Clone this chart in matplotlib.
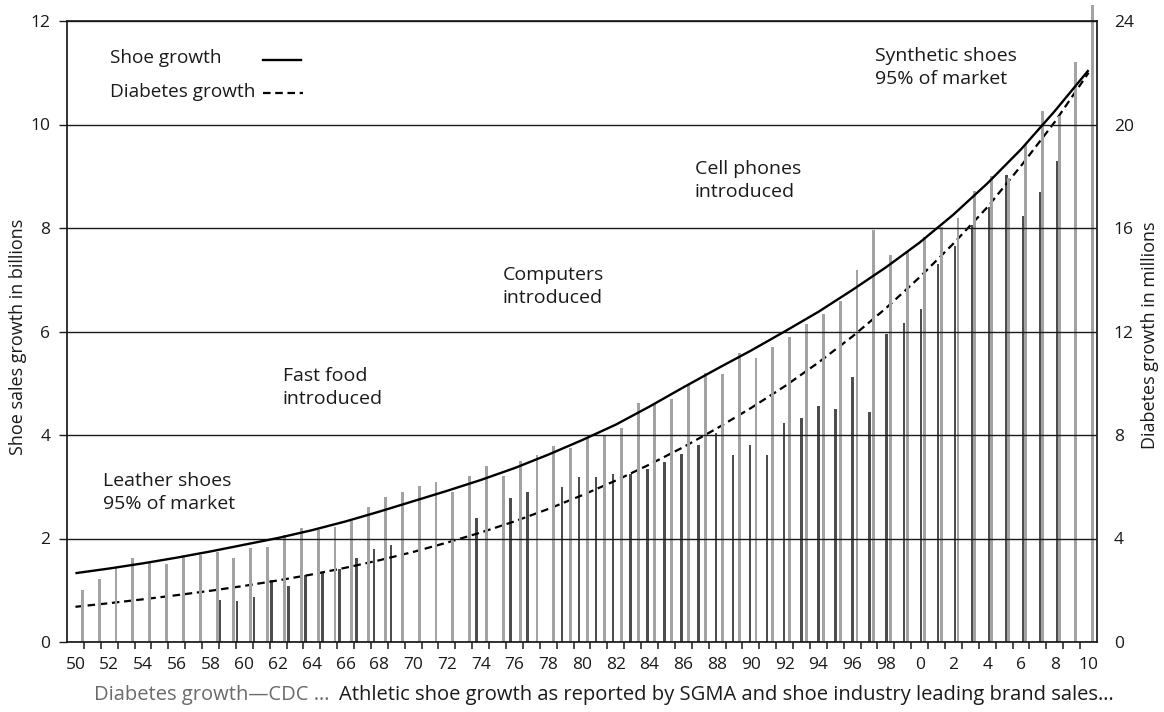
import numpy as np
import matplotlib
matplotlib.use("Agg")
import matplotlib.pyplot as plt

plt.rcParams['font.family'] = ['Open Sans', 'DejaVu Sans']

# ---------------- data ----------------
bar_years = list(range(1950, 2011))
shoe_sales_bars = [1.0, 1.22, 1.43, 1.62, 1.53, 1.5, 1.65, 1.68, 1.74, 1.63,
                   1.82, 1.84, 2.06, 2.2, 2.17, 2.23, 2.33, 2.61, 2.8, 2.9,
                   3.02, 3.1, 2.9, 3.21, 3.4, 3.2, 3.49, 3.61, 3.79, 3.74,
                   3.95, 4.0, 4.14, 4.62, 4.6, 4.7, 4.98, 5.2, 5.18, 5.59,
                   5.49, 5.71, 5.9, 6.14, 6.34, 6.58, 7.18, 7.97, 7.48, 7.55,
                   7.82, 8.02, 8.2, 8.72, 9.0, 8.96, 9.62, 10.27, 10.16, 11.2,
                   12.3]

diab_bar_years = list(range(1958, 2010))
diabetes_bars_m = [1.62, 1.58, 1.72, 2.4, 2.16, 2.6, 2.68, 2.84, 3.24, 3.58,
                   3.74, np.nan, np.nan, np.nan, np.nan, 4.8, np.nan, 5.56, 5.78, np.nan,
                   6.0, 6.38, 6.36, 6.48, 6.5, 6.7, 6.94, 7.28, 7.6, 8.08,
                   7.24, 7.62, 7.24, 8.48, 8.66, 9.14, 9.0, 10.24, 8.88, 11.92,
                   12.34, 12.86, 14.6, 15.32, 16.1, 16.8, 18.04, 16.48, 17.4, 18.6,
                   18.28, 17.8]

curve_years = list(range(1950, 2011, 2))
shoe_growth = [1.33, 1.42, 1.52, 1.63, 1.75, 1.88, 2.01, 2.16, 2.33, 2.52,
               2.72, 2.92, 3.13, 3.36, 3.62, 3.9, 4.2, 4.55, 4.92, 5.28,
               5.63, 6.0, 6.38, 6.8, 7.24, 7.72, 8.26, 8.86, 9.52, 10.26, 11.05]
diabetes_growth_m = [1.36, 1.5, 1.65, 1.81, 1.98, 2.17, 2.38, 2.61, 2.87, 3.16,
                     3.48, 3.84, 4.23, 4.66, 5.14, 5.67, 6.24, 6.86, 7.53, 8.26,
                     9.04, 9.88, 10.8, 11.8, 12.9, 14.1, 15.4, 16.8, 18.4, 20.1, 22.0]

tick_years = list(range(1950, 2011, 2))
tick_labels = [str(y % 100) for y in tick_years]

annotations = [
    ("Leather shoes\n95% of market", 1951.63, 2.89),
    ("Fast food\nintroduced", 1962.29, 4.92),
    ("Computers\nintroduced", 1975.3, 6.87),
    ("Cell phones\nintroduced", 1986.68, 8.92),
    ("Synthetic shoes\n95% of market", 1997.34, 11.1),
]

# ---------------- figure ----------------
W, H = 1164, 712
fig = plt.figure(figsize=(W / 100, H / 100), dpi=100)
x0, x1, ytop, ybot = 67, 1097, 21, 642
ax = fig.add_axes([x0 / W, 1 - ybot / H, (x1 - x0) / W, (ybot - ytop) / H])
ax2 = ax.twinx()
ax.set_zorder(ax2.get_zorder() + 1)
ax.patch.set_visible(False)

ax.set_xlim(1949.5, 2010.5)
ax.set_ylim(0, 12)
ax2.set_ylim(0, 24)

by = np.array(bar_years, dtype=float)
light_x = by + 0.41 - 0.0027 * (by - by[0])
ax.bar(light_x, shoe_sales_bars, width=0.17, color='#a3a3a3', linewidth=0,
       zorder=1, clip_on=False)

dy = np.array(diab_bar_years, dtype=float)
dv = np.array(diabetes_bars_m, dtype=float)
dark_x = dy + 0.56 + 0.0125 * (dy - dy[0])
m = ~np.isnan(dv)
ax2.bar(dark_x[m], dv[m], width=0.15, color='#4d4d4d', linewidth=0, zorder=1)

ax.plot(curve_years, shoe_growth, color='black', lw=1.7, zorder=4,
        solid_capstyle='butt')
ax2.plot(curve_years, diabetes_growth_m, color='black', lw=1.6,
         linestyle=(0, (3.4, 2.1)), zorder=4)

# grid
ax.set_yticks(range(0, 13, 2))
ax.grid(axis='y', color='#1a1a1a', lw=1.0, zorder=2.5)
ax.set_axisbelow(False)
for sp in ax.spines.values():
    sp.set_linewidth(1.2)
    sp.set_color('#111111')
for sp in ax2.spines.values():
    sp.set_visible(False)

# ticks
ax.set_xticks(tick_years)
ax.set_xticklabels(tick_labels)
ax.set_xticks(np.arange(1950.5, 2010.5, 1.0), minor=True)
ax.tick_params(axis='x', which='major', length=0, pad=11, labelsize=12.5,
               colors='#1a1a1a')
ax.tick_params(axis='x', which='minor', length=5, width=1.1, direction='out',
               color='#1a1a1a')
ax.tick_params(axis='y', which='major', length=6, width=1.0, pad=6,
               labelsize=12.5, colors='#1a1a1a')
ax2.set_yticks(range(0, 25, 4))
ax2.tick_params(axis='y', length=0, pad=12, labelsize=12.5, colors='#1a1a1a')

fig.text(18 / W, 1 - 337 / H, "Shoe sales growth in billions", rotation=90,
         ha='center', va='center', fontsize=13, color='#1a1a1a')
fig.text(1150 / W, 1 - 335 / H, "Diabetes growth in millions", rotation=90,
         ha='center', va='center', fontsize=13, color='#1a1a1a')

for txt, xx, yy in annotations:
    ax.text(xx, yy, txt, fontsize=14, ha='left', va='center',
            linespacing=1.35, color='#1a1a1a', zorder=5)

# legend (text + handle column)
ax.text(0.0417, 0.94, "Shoe growth", transform=ax.transAxes, fontsize=13.7,
        va='center', ha='left', color='#1a1a1a')
ax.text(0.0417, 0.886, "Diabetes growth", transform=ax.transAxes, fontsize=13.7,
        va='center', ha='left', color='#1a1a1a')
ax.plot([0.19, 0.227], [0.937, 0.937], transform=ax.transAxes, color='black',
        lw=1.7)
ax.plot([0.19, 0.229], [0.884, 0.884], transform=ax.transAxes, color='black',
        lw=1.6, linestyle=(0, (3.4, 2.1)))

# bottom caption
fig.text(329 / W, 1 - 695 / H, "Diabetes growth\u2014CDC \u2026", ha='right',
         va='center', fontsize=14.5, color='#6a6a6a')
fig.text(339 / W, 1 - 695 / H,
         "Athletic shoe growth as reported by SGMA and shoe industry leading brand sales\u2026",
         ha='left', va='center', fontsize=14.5, color='#1a1a1a')

fig.savefig("out.png", dpi=100)
